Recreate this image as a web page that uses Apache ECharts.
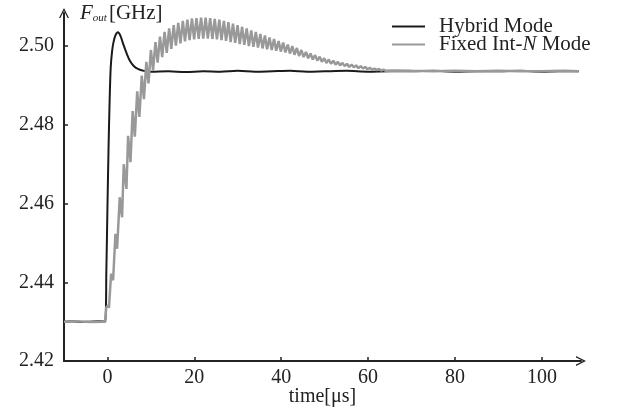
<!DOCTYPE html>
<html>
<head>
<meta charset="utf-8">
<script src="https://cdn.jsdelivr.net/npm/echarts@6/dist/echarts.min.js"></script>
<style>
  html, body { margin: 0; padding: 0; background: #fff; }
  #main { width: 626px; height: 410px; }
</style>
</head>
<body>
<div id="main"></div>
<script>
var seriesNames = ['Hybrid Mode', 'Fixed Int-N Mode'];
var xTicks = [0, 20, 40, 60, 80, 100];
var yTicks = [2.42, 2.44, 2.46, 2.48, 2.50];

// [time us, Fout GHz]
var hybridData = [
    [-10, 2.4300], [-8, 2.4301], [-6, 2.4299], [-4, 2.4300], [-2, 2.4301], [-0.55, 2.4300],
    [-0.25, 2.4430], [0, 2.4590], [0.25, 2.4740], [0.5, 2.4860], [0.75, 2.4945],
    [1.07, 2.4987], [1.4, 2.5010], [1.84, 2.5027], [2.4, 2.5035], [3.0, 2.5026],
    [3.6, 2.5006], [4.5, 2.4979], [5.2, 2.4962], [6.0, 2.4950], [7.0, 2.4942],
    [8.4, 2.4937], [10, 2.4935], [14, 2.4936], [18, 2.4934], [22, 2.4936],
    [26, 2.4935], [30, 2.4937], [34, 2.4935], [38, 2.4936], [42, 2.4937],
    [46, 2.4935], [50, 2.4936], [55, 2.4937], [60, 2.4935], [65, 2.4936],
    [70, 2.4936], [75, 2.4937], [80, 2.4935], [85, 2.4936], [90, 2.4936],
    [95, 2.4937], [100, 2.4935], [104, 2.4936], [108.5, 2.4936]
];

var fixedData = [
    [-10, 2.4300], [-7, 2.4301], [-4, 2.4299], [-1, 2.4300], [-0.5, 2.4300],
    [-0.3, 2.4335], [0.1, 2.4342], [0.35, 2.4335],
    [0.84, 2.4422], [1.3, 2.4405], [1.84, 2.4523], [2.22, 2.4485],
    [2.83, 2.4616], [3.37, 2.4565], [3.75, 2.4700], [4.37, 2.4637],
    [4.75, 2.4772], [5.3, 2.4705], [5.8, 2.4835], [6.3, 2.4770],
    [6.85, 2.4885], [7.35, 2.4820], [7.9, 2.4925], [8.4, 2.4865],
    [8.95, 2.4960], [9.45, 2.4905], [10.0, 2.4990], [10.5, 2.4938],
    [11.05, 2.5010], [11.55, 2.4958], [12.1, 2.5024], [12.6, 2.4972],
    [13.15, 2.5036], [13.65, 2.4983], [14.2, 2.5045], [14.7, 2.4993],
    [15.25, 2.5053], [15.75, 2.5001], [16.3, 2.5059], [16.8, 2.5007],
    [17.35, 2.5064], [17.85, 2.5012], [18.4, 2.5067], [18.9, 2.5015],
    [19.45, 2.5070], [19.95, 2.5017], [20.5, 2.5071], [21.0, 2.5018],
    [21.55, 2.5072], [22.05, 2.5019], [22.6, 2.5072], [23.1, 2.5019],
    [23.65, 2.5071], [24.15, 2.5018], [24.7, 2.5069], [25.2, 2.5017],
    [25.75, 2.5067], [26.25, 2.5015], [26.8, 2.5064], [27.3, 2.5013],
    [27.85, 2.5061], [28.35, 2.5010], [28.9, 2.5057], [29.4, 2.5008],
    [29.95, 2.5053], [30.45, 2.5005], [31.0, 2.5049], [31.5, 2.5003],
    [32.05, 2.5045], [32.55, 2.5000], [33.1, 2.5040], [33.6, 2.4998],
    [34.15, 2.5036], [34.65, 2.4996], [35.2, 2.5031], [35.7, 2.4994],
    [36.25, 2.5027], [36.75, 2.4992], [37.3, 2.5022], [37.8, 2.4990],
    [38.35, 2.5018], [38.85, 2.4988], [39.4, 2.5013], [39.9, 2.4986],
    [40.45, 2.5009], [40.95, 2.4984], [41.5, 2.5004], [42.0, 2.4981],
    [42.55, 2.5000], [43.05, 2.4978], [43.6, 2.4995], [44.1, 2.4975],
    [44.65, 2.4990], [45.15, 2.4972], [45.7, 2.4985], [46.2, 2.4969],
    [46.75, 2.4981], [47.25, 2.4966], [47.8, 2.4977], [48.3, 2.4963],
    [48.85, 2.4973], [49.35, 2.4960], [49.9, 2.4969], [50.4, 2.4957],
    [50.95, 2.4966], [51.45, 2.4955], [52.0, 2.4963], [52.5, 2.4953],
    [53.05, 2.4960], [53.55, 2.4951], [54.1, 2.4957], [54.6, 2.4949],
    [55.15, 2.4955], [55.65, 2.4947], [56.2, 2.4953], [56.7, 2.4946],
    [57.25, 2.4951], [57.75, 2.4944], [58.3, 2.4949], [58.8, 2.4943],
    [59.35, 2.4947], [59.85, 2.4941], [60.4, 2.4945], [60.9, 2.4940],
    [61.45, 2.4943], [61.95, 2.4939], [62.5, 2.4942], [63.0, 2.4938],
    [63.55, 2.4940], [64.05, 2.4937], [66, 2.4938], [70, 2.4937],
    [75, 2.4936], [80, 2.4937], [85, 2.4936], [90, 2.4937], [95, 2.4936],
    [100, 2.4936], [105, 2.4937], [108.5, 2.4936]
];

var serif = "'Liberation Serif', 'Times New Roman', serif";
var arrow = 'path://M0,10 L5,0 L10,10 L8.6,10 L5,2.8 L1.4,10 Z';

var chart = echarts.init(document.getElementById('main'));

var option = {
    animation: false,
    grid: { left: 64, right: 45, top: 13, bottom: 49, outerBoundsMode: 'none' },
    legend: {
        data: seriesNames,
        orient: 'vertical',
        left: 387,
        top: 11,
        itemGap: -3,
        itemWidth: 33,
        itemHeight: 2,
        icon: 'rect',
        formatter: function (name) {
            if (name === 'Fixed Int-N Mode') {
                return '{n|Fixed Int-}{i|N}{n| Mode}';
            }
            return '{n|' + name + '}';
        },
        textStyle: {
            padding: [0, 0, 0, 9],
            rich: {
                n: { fontFamily: serif, fontSize: 21, color: '#222', lineHeight: 18 },
                i: { fontFamily: serif, fontSize: 21, color: '#222', fontStyle: 'italic', lineHeight: 18 }
            }
        }
    },
    xAxis: {
        type: 'value',
        min: -10,
        max: 109,
        name: 'time[μs]',
        nameLocation: 'middle',
        nameGap: 26,
        nameMoveOverlap: false,
        nameTextStyle: { fontFamily: serif, fontSize: 20, color: '#222' },
        splitLine: { show: false },
        axisLine: {
            onZero: false,
            lineStyle: { color: '#222', width: 2 },
            symbol: ['none', arrow],
            symbolSize: [10, 10]
        },
        axisTick: {
            inside: true,
            length: 4,
            customValues: xTicks,
            lineStyle: { color: '#222', width: 1.5 }
        },
        axisLabel: {
            customValues: xTicks,
            margin: 7,
            fontFamily: serif,
            fontSize: 20,
            color: '#222'
        }
    },
    yAxis: {
        type: 'value',
        min: 2.42,
        max: 2.5084,
        name: '{f|F}{s|out}{g|[GHz]}',
        nameLocation: 'end',
        nameGap: 0,
        nameTextStyle: {
            align: 'left',
            verticalAlign: 'middle',
            padding: [0, 0, 0, 16],
            rich: {
                f: { fontFamily: serif, fontSize: 21, fontStyle: 'italic', color: '#222' },
                s: { fontFamily: serif, fontSize: 11, fontStyle: 'italic', color: '#222', padding: [10, 2, 0, 0] },
                g: { fontFamily: serif, fontSize: 21, color: '#222' }
            }
        },
        splitLine: { show: false },
        axisLine: {
            onZero: false,
            lineStyle: { color: '#222', width: 2 },
            symbol: ['none', arrow],
            symbolSize: [10, 10]
        },
        axisTick: {
            inside: true,
            length: 4,
            customValues: yTicks,
            lineStyle: { color: '#222', width: 1.5 }
        },
        axisLabel: {
            customValues: yTicks,
            margin: 10,
            fontFamily: serif,
            fontSize: 20,
            color: '#222',
            formatter: function (v) { return v.toFixed(2); }
        }
    },
    series: [
        {
            name: seriesNames[0],
            type: 'line',
            data: hybridData,
            showSymbol: false,
            smooth: 0.3,
            color: '#1a1a1a',
            lineStyle: { color: '#1a1a1a', width: 2 }
        },
        {
            name: seriesNames[1],
            type: 'line',
            data: fixedData,
            showSymbol: false,
            color: '#999999',
            lineStyle: { color: '#999999', width: 2.5 }
        }
    ]
};

chart.setOption(option);

window.onresize = chart.resize;
</script>
</body>
</html>
